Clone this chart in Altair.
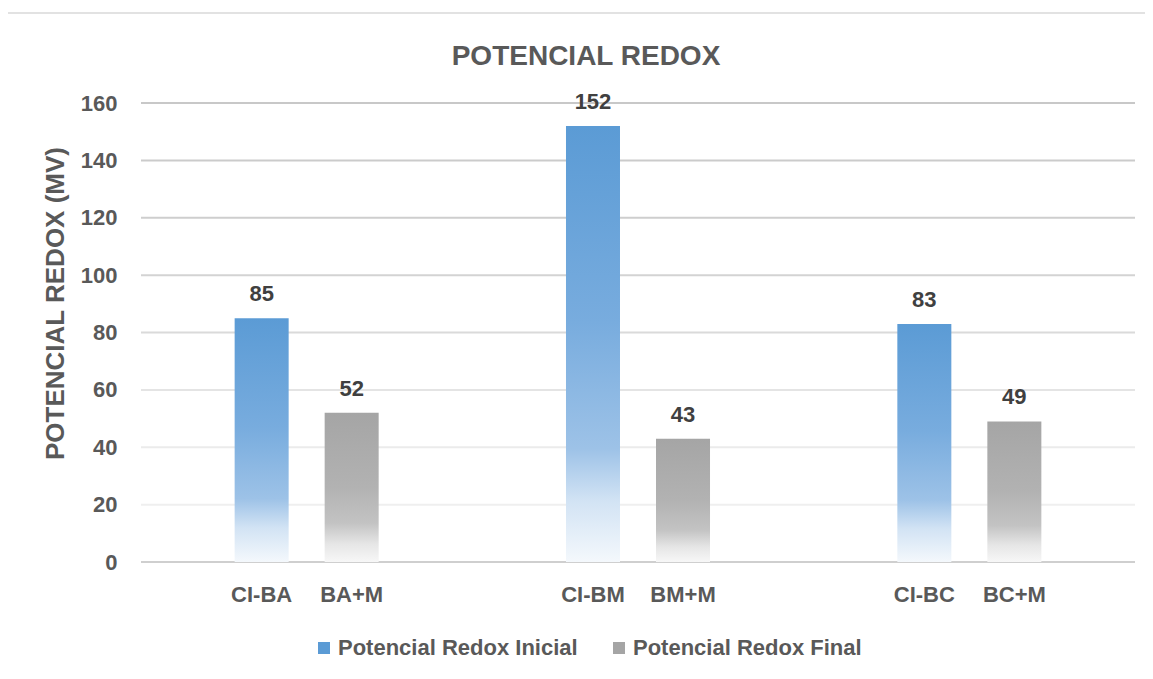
import altair as alt
import pandas as pd

# ---- data ----
grupos = ["BA", "BA", "BM", "BM", "BC", "BC"]
etiquetas = ["CI-BA", "BA+M", "CI-BM", "BM+M", "CI-BC", "BC+M"]
series = ["Potencial Redox Inicial", "Potencial Redox Final"] * 3
valores = [85, 52, 152, 43, 83, 49]

orden_grupos = ["BA", "BM", "BC"]
orden_series = ["Potencial Redox Inicial", "Potencial Redox Final"]

ticks_y = [0, 20, 40, 60, 80, 100, 120, 140, 160]
colores_grid = ["#CFCFCF", "#EFEFEF", "#EBEBEB", "#E4E4E4", "#DADADA",
                "#D3D3D3", "#CECECE", "#CBCBCB", "#C8C8C8"]

df = pd.DataFrame({"grupo": grupos, "etiqueta": etiquetas,
                   "serie": series, "valor": valores})
df_grid = pd.DataFrame({"v": ticks_y, "c": colores_grid})

FONT = "Liberation Sans, Arial, sans-serif"

W, H = 994, 459

x_enc = alt.X("grupo:N", sort=orden_grupos,
              scale=alt.Scale(paddingInner=0.2937, paddingOuter=0.1468), axis=None)
xo_enc = alt.XOffset("serie:N", sort=orden_series,
                     scale=alt.Scale(paddingInner=0.4, paddingOuter=0.5))
y_scale = alt.Scale(domain=[0, 160])

blue_grad = alt.Gradient(
    gradient="linear", x1=0, y1=0, x2=0, y2=1,
    stops=[alt.GradientStop(offset=0, color="#5B9BD5"),
           alt.GradientStop(offset=0.45, color="#78ACDE"),
           alt.GradientStop(offset=0.74, color="#9DC2E7"),
           alt.GradientStop(offset=0.86, color="#D2E3F4"),
           alt.GradientStop(offset=1, color="#F4F8FC")])
gray_grad = alt.Gradient(
    gradient="linear", x1=0, y1=0, x2=0, y2=1,
    stops=[alt.GradientStop(offset=0, color="#A5A5A5"),
           alt.GradientStop(offset=0.5, color="#B2B2B2"),
           alt.GradientStop(offset=0.74, color="#C3C3C3"),
           alt.GradientStop(offset=0.88, color="#E6E6E6"),
           alt.GradientStop(offset=1, color="#F7F7F7")])

base = alt.Chart(df)

# chart frame (decorative border)
frame = alt.Chart(pd.DataFrame({"a": [0]})).mark_rect(
    fillOpacity=0, stroke="#D9D9D9", strokeWidth=1.5
).encode(x=alt.value(4 - 141), x2=alt.value(1200), y=alt.value(13 - 103), y2=alt.value(700))

grid = alt.Chart(df_grid).mark_rule(strokeWidth=2).encode(
    y=alt.Y("v:Q", scale=y_scale,
            axis=alt.Axis(values=ticks_y, title="POTENCIAL REDOX (MV)",
                          domain=False, ticks=False, grid=False,
                          labelFont=FONT, labelFontSize=22, labelFontWeight="bold",
                          labelColor="#595959", labelPadding=24,
                          titleFont=FONT, titleFontSize=26, titleFontWeight="bold",
                          titleColor="#595959", titlePadding=12, titleY=200)),
    color=alt.Color("c:N", scale=None),
    x=alt.value(0), x2=alt.value(W),
)

bars_ini = base.transform_filter(alt.datum.serie == orden_series[0]).mark_bar(
    fill=blue_grad).encode(x=x_enc, xOffset=xo_enc, y=alt.Y("valor:Q", scale=y_scale))
bars_fin = base.transform_filter(alt.datum.serie == orden_series[1]).mark_bar(
    fill=gray_grad).encode(x=x_enc, xOffset=xo_enc, y=alt.Y("valor:Q", scale=y_scale))

legend_layer = base.mark_square(opacity=0).encode(
    x=x_enc, xOffset=xo_enc, y=alt.Y("valor:Q", scale=y_scale),
    color=alt.Color("serie:N", sort=orden_series,
                    scale=alt.Scale(domain=orden_series, range=["#5B9BD5", "#A5A5A5"]),
                    legend=alt.Legend(title=None, orient="none", direction="horizontal",
                                      legendX=172, legendY=534, padding=0,
                                      symbolType="square", symbolSize=144,
                                      symbolOpacity=1, symbolStrokeWidth=0,
                                      labelFont=FONT, labelFontSize=22,
                                      labelFontWeight="bold", labelColor="#595959",
                                      labelOffset=3, columnPadding=30,
                                      labelLimit=400)),
)

labels = base.mark_text(font=FONT, fontSize=22, fontWeight="bold",
                        color="#404040", baseline="alphabetic", dy=-17).encode(
    x=x_enc, xOffset=xo_enc, y=alt.Y("valor:Q", scale=y_scale), text="valor:Q")

xlabels = base.mark_text(font=FONT, fontSize=22, fontWeight="bold",
                         color="#595959", baseline="alphabetic", dy=40).encode(
    x=x_enc, xOffset=xo_enc, y=alt.datum(0, scale=y_scale), text="etiqueta:N")

chart = alt.layer(frame, grid, bars_ini, bars_fin, legend_layer, labels, xlabels).properties(
    width=W, height=H,
    autosize=alt.AutoSizeParams(type="none"),
    padding={"left": 133, "top": 95, "right": 10, "bottom": 100},
    title=alt.TitleParams("POTENCIAL REDOX", font=FONT, fontSize=28, fontWeight="bold",
                          color="#595959", anchor="middle", frame="group",
                          baseline="alphabetic", offset=-81, dx=-52),
).configure_view(stroke=None)

chart.save("out.html", embed_options={"renderer": "svg", "actions": False})
